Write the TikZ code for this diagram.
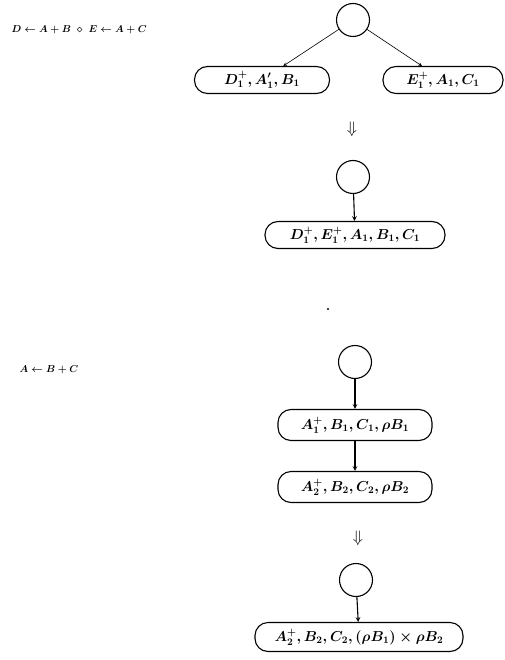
\documentclass[tikz,border=0pt]{standalone}
\usepackage{amsmath}
\usepackage{amssymb}
\usetikzlibrary{arrows,positioning}

\tikzset{
  bubble/.style={draw, line width=1.1pt, circle, minimum size=33pt, inner sep=0pt},
  term/.style={draw, line width=1.1pt, rounded corners=13pt, minimum height=27pt, inner sep=2pt, font=\Large\boldmath},
  proglabel/.style={font=\normalsize\boldmath, anchor=west},
  link/.style={->, >=stealth, line width=1.1pt},
  merge/.style={font=\huge, scale=0.8}
}

\begin{document}
\begin{tikzpicture}[x=1pt, y=-1pt]
    \useasboundingbox (0,0) rectangle (505,660);

    % first program: two statements
    \node[proglabel] (prog1) at (8,30) {$D\leftarrow A+B\ \diamond\ E\leftarrow A+C$};
    \node[bubble] (r1) at (353,20) {};
    \node[term, minimum width=135pt] (d1) at (262,80) {$D_1^{+}, A_1', B_1$};
    \node[term, minimum width=120pt] (e1) at (443,80) {$E_1^{+}, A_1, C_1$};
    \draw[->, >=stealth, semithick] (r1) -- (d1);
    \draw[->, >=stealth, semithick] (r1) -- (e1);

    % merged
    \node[merge] (m1) at (352,129) {$\Downarrow$};
    \node[bubble] (r2) at (353,177) {};
    \node[term, minimum width=180pt] (de) at (355,235) {$D_1^{+}, E_1^{+}, A_1, B_1, C_1$};
    \draw[link] (r2) -- (de);

    \fill (328,309) circle (1.2pt);

    % second program: chained statement
    \node[proglabel] (prog2) at (16,370) {$A\leftarrow B+C$};
    \node[bubble] (r3) at (355,362) {};
    \node[term, minimum width=154pt, minimum height=31pt] (a1) at (355,425) {$A_1^{+}, B_1, C_1, \rho B_1$};
    \node[term, minimum width=154pt, minimum height=31pt] (a2) at (355,487) {$A_2^{+}, B_2, C_2, \rho B_2$};
    \draw[link] (r3) -- (a1);
    \draw[link] (a1) -- (a2);

    % merged
    \node[merge] (m2) at (358,538) {$\Downarrow$};
    \node[bubble] (r4) at (356,580) {};
    \node[term, minimum width=208pt, minimum height=29pt] (ab) at (359,637) {$A_2^{+}, B_2, C_2, (\rho B_1)\times\rho B_2$};
    \draw[link] (r4) -- (ab);
\end{tikzpicture}
\end{document}
